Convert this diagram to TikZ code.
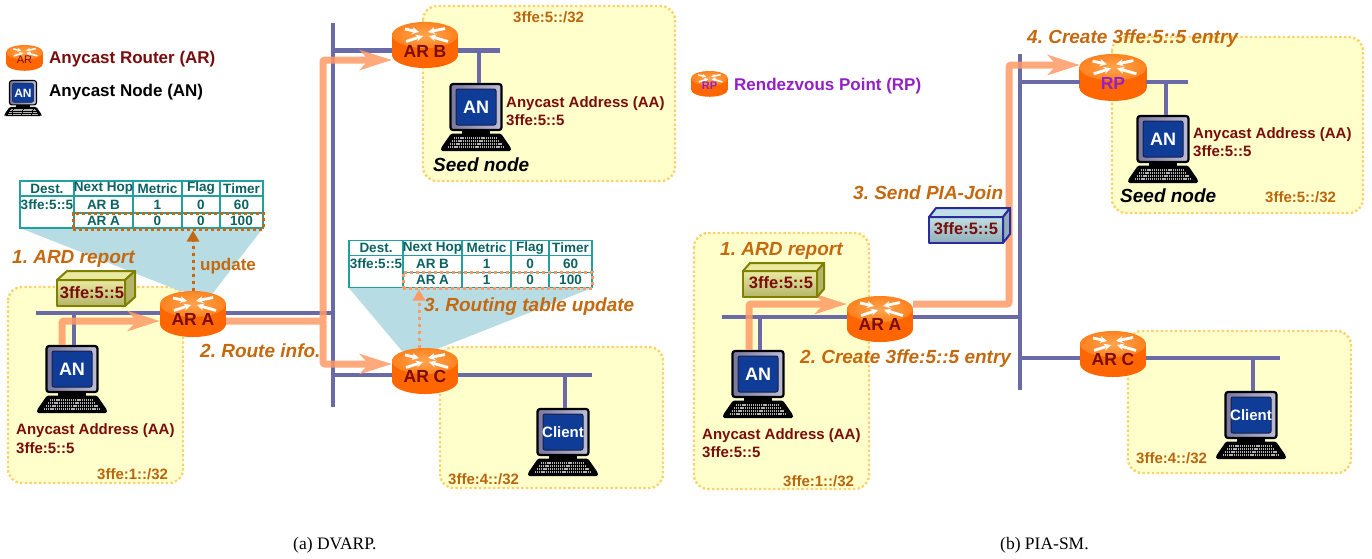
\documentclass[tikz,border=0pt]{standalone}
\usepackage{fontspec}
\setmainfont{Liberation Sans}
\newfontfamily\capfont{Liberation Serif}
\usetikzlibrary{arrows.meta,calc}
\definecolor{linecol}{HTML}{6A6AA6}
\definecolor{flow}{HTML}{FF9A66}
\definecolor{boxfill}{HTML}{FFFFCC}
\definecolor{boxedge}{HTML}{FCD36B}
\definecolor{wedge}{HTML}{B7DCE3}
\definecolor{tealline}{HTML}{22A0A0}
\definecolor{tealtext}{HTML}{0B6262}
\definecolor{stepc}{HTML}{C4690F}
\definecolor{subnet}{HTML}{B9660E}
\definecolor{darkred}{HTML}{7A0C0C}
\definecolor{purplerp}{HTML}{9320C8}
\definecolor{olivee}{HTML}{808000}
\definecolor{navye}{HTML}{2A2A9C}
\definecolor{rside}{HTML}{FF6600}
\definecolor{rtopin}{HTML}{FFA550}
\definecolor{rtopout}{HTML}{FF821E}
\definecolor{monl}{HTML}{7878A0}
\definecolor{monr}{HTML}{BEBED7}
\definecolor{scr}{HTML}{0F3C96}
\definecolor{scre}{HTML}{191E46}
\definecolor{pkytop}{HTML}{E9E9A0}
\definecolor{pkybot}{HTML}{B5B56A}
\definecolor{pkbtop}{HTML}{BFE0E4}
\definecolor{pkbbot}{HTML}{90AEB8}
\tikzset{
  net/.style={draw=linecol,line width=4.2pt},
  zone/.style={draw=boxedge,fill=boxfill,line width=2.4pt,dash pattern=on 2.4pt off 2.3pt,rounded corners=14pt},
  flowline/.style={draw=flow,line width=7pt,rounded corners=2pt,-{Stealth[length=32pt,width=20pt,inset=9pt]}},
  lbl/.style={anchor=mid west,inner sep=0pt,yshift=-3.3pt},
  steptxt/.style={lbl,text=stepc,font=\fontsize{19}{22}\selectfont\bfseries\itshape},
  subtxt/.style={lbl,text=subnet,font=\fontsize{15}{18}\selectfont\bfseries},
  addrtxt/.style={lbl,text=darkred,font=\fontsize{15}{18}\selectfont\bfseries},
  seedtxt/.style={lbl,text=black,font=\fontsize{19}{22}\selectfont\bfseries\itshape},
  legtxt/.style={lbl,font=\fontsize{17}{20}\selectfont\bfseries},
  rtrnode/.style={inner sep=0pt,minimum width=66pt,minimum height=46pt,text=darkred,font=\fontsize{17.5}{20}\selectfont\bfseries},
  cmpnode/.style={inner sep=0pt,minimum width=53pt,minimum height=48pt,text=white,font=\fontsize{18}{20}\selectfont\bfseries},
  cell/.style={inner sep=0pt,text=tealtext,font=\fontsize{13.5}{15}\selectfont\bfseries},
  tline/.style={draw=tealline,line width=1.2pt},
  pktbox/.style={line width=2pt,line join=round},
  pkttxt/.style={inner sep=0pt,text=darkred,font=\fontsize{16.5}{18}\selectfont\bfseries},
  capt/.style={lbl,font=\fontsize{17.5}{20}\selectfont\capfont},
  hilite/.style={draw,line width=3pt,dash pattern=on 3pt off 3pt,inner sep=0pt},
  dotflow/.style={line width=3pt,dash pattern=on 3pt off 4pt,-{Triangle[length=11pt,width=12pt]}}
}
% router drawing: centre x, top y, scale
\newcommand{\rtrgfx}[3]{%
  \begin{scope}[shift={(#1,#2)},scale=#3]
    \fill[rside] (-33,13) rectangle (33,33);
    \fill[rside] (0,33) ellipse [x radius=33,y radius=13];
    \shade[inner color=rtopin,outer color=rtopout] (0,13) ellipse [x radius=33,y radius=13];
    \pgfmathsetlengthmacro\wlw{#3*2.8pt}
    \pgfmathsetlengthmacro\wtip{#3*7pt}
    \foreach \ax/\ay/\bx/\by in {-20/7/-6/10, 20/6.5/3/10, -19/19.5/-2/14, 23/19.5/4/14}
      \draw[white,line width=\wlw,-{Stealth[length=\wtip,width=\wtip]}] (\ax,\ay) -- (\bx,\by);
  \end{scope}}
% computer drawing: centre x, monitor top y, scale
\newcommand{\cmpgfx}[3]{%
  \begin{scope}[shift={(#1,#2)},scale=#3]
    \pgfmathsetlengthmacro\kw{#3*1.5pt}
    \pgfmathsetlengthmacro\kon{#3*1.2pt}
    \pgfmathsetlengthmacro\koff{#3*.9pt}
    \pgfmathsetlengthmacro\mlw{#3*2.2pt}
    \pgfmathsetlengthmacro\slw{#3*1pt}
    \fill[black] (-14,46) rectangle (14,52);
    \fill[black,rounded corners=1.5pt] (-25,50.5) -- (25,50.5) -- (35,65) -- (35,68) -- (-35,68) -- (-35,65) -- cycle;
    \foreach \yy/\hw in {55/22,58/24,61/26,64/28}
      \draw[gray!60,line width=\kw,dash pattern=on \kon off \koff] (-\hw,\yy) -- (\hw,\yy);
    \shade[draw=black,line width=\mlw,rounded corners=2.5pt,left color=monl,right color=monr] (-25.5,1) rectangle (25.5,47);
    \fill[fill=scr,draw=scre,line width=\slw,rounded corners=2pt] (-20,6) rectangle (20,42);
  \end{scope}}
% package: front x0,x1, y0,y1, depth x, depth y, edge, fill top, fill bottom
\newcommand{\pktgfx}[9]{%
  \shade[pktbox,draw=#7,top color=#8,bottom color=#9] (#1,#3) rectangle (#2,#4);
  \fill[pktbox,draw=#7,fill=#8] (#1,#3) -- ({#1+#5},{#3-#6}) -- ({#2+#5},{#3-#6}) -- (#2,#3) -- cycle;
  \fill[pktbox,draw=#7,fill=#9] (#2,#3) -- ({#2+#5},{#3-#6}) -- ({#2+#5},{#4-#6}) -- (#2,#4) -- cycle;}
% routing table, metric of AR A as #2
\newcommand{\rtable}[2]{%
  \draw[tline] (20,181) rectangle (263,228);
  \draw[tline] (20,196) -- (263,196) (74,213) -- (263,213);
  \foreach \xx in {74,133,182,220} \draw[tline] (\xx,181) -- (\xx,228);
  \node[cell] (#1h1) at (47,188.5) {Dest.};
  \node[cell] (#1h2) at (103.5,188.5) {Next Hop};
  \node[cell] (#1h3) at (157.5,188.5) {Metric};
  \node[cell] (#1h4) at (201,188.5) {Flag};
  \node[cell] (#1h5) at (241.5,188.5) {Timer};
  \node[cell] (#1a1) at (47,204.5) {3ffe:5::5};
  \node[cell] (#1a2) at (103.5,204.5) {AR B};
  \node[cell] (#1a3) at (157.5,204.5) {1};
  \node[cell] (#1a4) at (201,204.5) {0};
  \node[cell] (#1a5) at (241.5,204.5) {60};
  \node[cell] (#1b2) at (103.5,220.5) {AR A};
  \node[cell] (#1b3) at (157.5,220.5) {#2};
  \node[cell] (#1b4) at (201,220.5) {0};
  \node[cell] (#1b5) at (241.5,220.5) {100};}
\begin{document}
\frenchspacing
\begin{tikzpicture}[x=1pt,y=-1pt]
\useasboundingbox (0,0) rectangle (1372,558);
\fill[white] (0,0) rectangle (1372,558);
% zones
\path[zone] (8,287) rectangle (183,483);
\path[zone] (423,6) rectangle (675,181);
\path[zone] (440,347) rectangle (663,488);
\path[zone] (694,233) rectangle (869,489);
\path[zone] (1112,37) rectangle (1363,213);
\path[zone] (1128,331) rectangle (1351,473);
% wedges
\fill[wedge] (20,228) -- (263,228) -- (213,293) -- (180,291) -- cycle;
\fill[wedge] (349,288) -- (592,288) -- (437,349) -- (402,351) -- cycle;
% equipment graphics
\rtrgfx{193}{291}{1}
\rtrgfx{425}{22}{1}
\rtrgfx{425}{348}{1}
\rtrgfx{880}{296}{1}
\rtrgfx{1113}{331}{1}
\rtrgfx{1113}{54}{1.02}
\rtrgfx{24.5}{45}{.56}
\rtrgfx{709.5}{71}{.56}
\cmpgfx{72}{345}{1}
\cmpgfx{476}{83}{1}
\cmpgfx{563}{408}{1}
\cmpgfx{758}{350}{1}
\cmpgfx{1163}{115}{1}
\cmpgfx{1251}{391}{1}
\cmpgfx{23}{80}{.53}
% named nodes
\node[rtrnode] (arA) at (193,314) {\raisebox{-11pt}[0pt][0pt]{AR A}};
\node[rtrnode] (arB) at (425,45) {\raisebox{-12pt}[0pt][0pt]{AR B}};
\node[rtrnode] (arC) at (425,371) {\raisebox{-11pt}[0pt][0pt]{AR C}};
\node[rtrnode] (arA2) at (880,319) {\raisebox{-11pt}[0pt][0pt]{AR A}};
\node[rtrnode] (arC2) at (1113,354) {\raisebox{-11pt}[0pt][0pt]{AR C}};
\node[rtrnode,text=purplerp] (rp) at (1113,77) {\raisebox{-12pt}[0pt][0pt]{RP}};
\node[rtrnode,minimum width=37pt,minimum height=24pt,font=\fontsize{11}{12}\selectfont] (legAR) at (24.5,57) {\raisebox{-6pt}[0pt][0pt]{AR}};
\node[rtrnode,minimum width=37pt,minimum height=24pt,text=purplerp,font=\fontsize{11}{12}\selectfont\bfseries] (legRP) at (709.5,83) {\raisebox{-6pt}[0pt][0pt]{RP}};
\node[cmpnode] (anL) at (72,369) {AN};
\node[cmpnode] (anB) at (476,107) {AN};
\node[cmpnode,font=\fontsize{15}{18}\selectfont\bfseries] (clL) at (563,432) {Client};
\node[cmpnode] (anR) at (758,374) {AN};
\node[cmpnode] (anP) at (1163,139) {AN};
\node[cmpnode,font=\fontsize{15}{18}\selectfont\bfseries] (clR) at (1251,415) {Client};
\node[cmpnode,minimum width=28pt,minimum height=26pt,font=\fontsize{12}{14}\selectfont\bfseries] (legAN) at (23,93) {AN};
% network free ends
\coordinate (l0) at (36,313);
\coordinate (bus1t) at (333,23);
\coordinate (bus1b) at (333,407);
\coordinate (busB) at (500,50.5);
\coordinate (busC) at (592,375);
\coordinate (r0) at (722,317);
\coordinate (bus2t) at (1020,54);
\coordinate (bus2b) at (1020,390);
\coordinate (busP) at (1188,82);
\coordinate (busC2) at (1280,358);
\coordinate (d1) at (74,313);
\coordinate (d2) at (479,50.5);
\coordinate (d3) at (565,375);
\coordinate (d4) at (760,317);
\coordinate (d5) at (1166,82);
\coordinate (d6) at (1253,358);
% network
\draw[net] (l0) -- (arA.west |- l0);
\draw[net] (arA.east |- l0) -- (bus1t |- l0);
\draw[net] (bus1t) -- (bus1b);
\draw[net] (bus1t |- busB) -- (arB.west |- busB);
\draw[net] (arB.east |- busB) -- (busB);
\draw[net] (bus1t |- busC) -- (arC.west |- busC);
\draw[net] (arC.east |- busC) -- (busC);
\draw[net] (d1) -- (d1 |- anL.north);
\draw[net] (d2) -- (d2 |- anB.north);
\draw[net] (d3) -- (d3 |- clL.north);
\draw[net] (r0) -- (arA2.west |- r0);
\draw[net] (arA2.east |- r0) -- (bus2t |- r0);
\draw[net] (bus2t) -- (bus2b);
\draw[net] (bus2t |- busP) -- (rp.west |- busP);
\draw[net] (rp.east |- busP) -- (busP);
\draw[net] (bus2t |- busC2) -- (arC2.west |- busC2);
\draw[net] (arC2.east |- busC2) -- (busC2);
\draw[net] (d4) -- (d4 |- anR.north);
\draw[net] (d5) -- (d5 |- anP.north);
\draw[net] (d6) -- (d6 |- clR.north);
% tables
\rtable{ta}{0}
\begin{scope}[shift={(329,59.5)}]
  \rtable{tc}{1}
\end{scope}
\node[hilite,draw=stepc,minimum width=190pt,minimum height=16pt] (hlA) at (168,221) {};
\node[hilite,draw=flow,minimum width=189pt,minimum height=16pt] (hlC) at (497.5,280) {};
\coordinate (upC) at ($(arC.north)+(-6,0)$);
\draw[dotflow,draw=stepc,fill=stepc] (arA.north) -- (arA.north |- hlA.south);
\draw[dotflow,draw=flow,fill=flow] (upC) -- (upC |- hlC.south);
% flows
\begin{scope}[transparency group,opacity=.85]
\draw[flowline] ($(anL.north)+(-10,0)$) |- ($(arA.west)+(0,7)$);
\coordinate (trunk) at (323,321);
\draw[flowline] ($(arA.east)+(0,7)$) -- (trunk) |- ($(arB.west)+(0,15)$);
\draw[flowline] (trunk) |- ($(arC.west)+(0,-7)$);
\draw[flowline] ($(anR.north)+(-9,0)$) |- ($(arA2.west)+(0,-15)$);
\coordinate (trunk2) at (1009,304);
\draw[flowline] ($(arA2.east)+(0,-15)$) -- (trunk2) |- ($(rp.west)+(0,-12)$);
\end{scope}
% packets
\pktgfx{57}{125}{280}{306}{10}{9}{olivee}{pkytop}{pkybot}
\pktgfx{743}{817}{271}{297}{7}{8}{olivee}{pkytop}{pkybot}
\pktgfx{929}{1003}{217}{243}{7}{9}{navye}{pkbtop}{pkbbot}
\node[pkttxt] (pk1) at (92,293) {3ffe:5::5};
\node[pkttxt] (pk2) at (781,283) {3ffe:5::5};
\node[pkttxt] (pk3) at (966,229) {3ffe:5::5};
% labels
\node[legtxt,text=darkred] (lg1) at (49,58) {Anycast Router (AR)};
\node[legtxt,text=black] (lg2) at (49,91) {Anycast Node (AN)};
\node[legtxt,text=purplerp] (lg3) at (734,85) {Rendezvous Point (RP)};
\node[steptxt] (s1) at (12,258) {1. ARD report};
\node[lbl,text=stepc,font=\fontsize{17}{20}\selectfont\bfseries] (s1u) at (200,265) {update};
\node[steptxt] (s2) at (200,352) {2. Route info.};
\node[steptxt] (s3) at (424,306) {3. Routing table update};
\node[steptxt] (r1) at (720,250) {1. ARD report};
\node[steptxt] (r2) at (800,358) {2. Create 3ffe:5::5 entry};
\node[steptxt] (r3) at (853,194) {3. Send PIA-Join};
\node[steptxt] (r4) at (1027,38) {4. Create 3ffe:5::5 entry};
\node[addrtxt] (a1) at (16,429) {Anycast Address (AA)};
\node[addrtxt] (a1b) at (16,448) {3ffe:5::5};
\node[addrtxt] (a2) at (506,102) {Anycast Address (AA)};
\node[addrtxt] (a2b) at (506,120) {3ffe:5::5};
\node[addrtxt] (a3) at (702,434) {Anycast Address (AA)};
\node[addrtxt] (a3b) at (702,452) {3ffe:5::5};
\node[addrtxt] (a4) at (1193,133) {Anycast Address (AA)};
\node[addrtxt] (a4b) at (1193,151) {3ffe:5::5};
\node[seedtxt] (sd1) at (433,166) {Seed node};
\node[seedtxt] (sd2) at (1120,197) {Seed node};
\node[subtxt] (n1) at (97,474) {3ffe:1::/32};
\node[subtxt] (n2) at (513,17) {3ffe:5::/32};
\node[subtxt] (n3) at (448,479) {3ffe:4::/32};
\node[subtxt] (n4) at (783,481) {3ffe:1::/32};
\node[subtxt] (n5) at (1136,458) {3ffe:4::/32};
\node[subtxt] (n6) at (1265,197) {3ffe:5::/32};
\node[capt] (c1) at (293,544) {(a) DVARP.};
\node[capt] (c2) at (1000,544) {(b) PIA-SM.};
\end{tikzpicture}
\end{document}
